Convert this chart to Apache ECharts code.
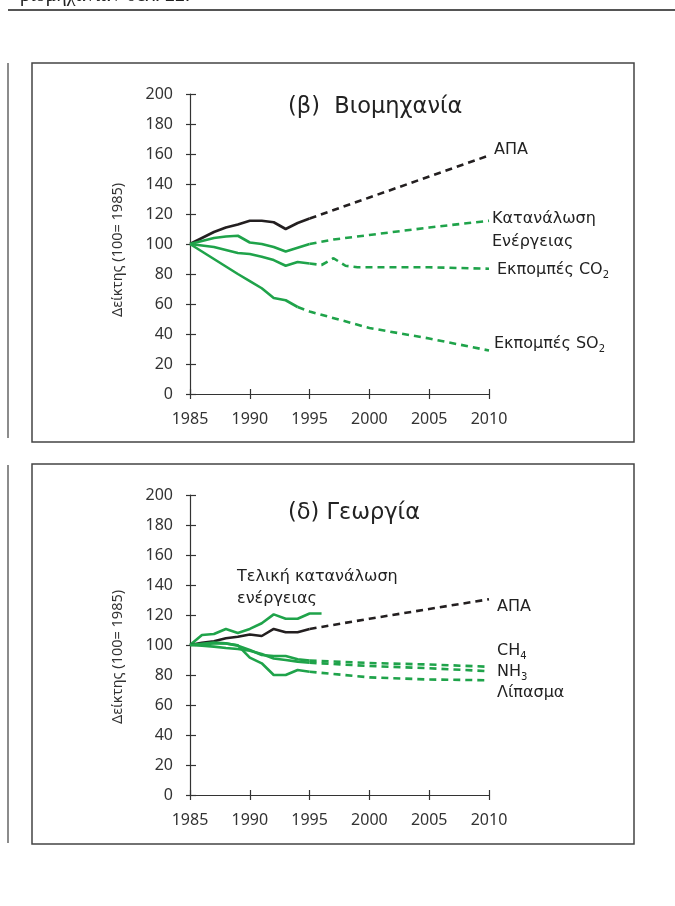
<!DOCTYPE html>
<html><head><meta charset="utf-8">
<script src="https://cdn.jsdelivr.net/npm/echarts@6/dist/echarts.min.js"></script>
<style>html,body{margin:0;padding:0;background:#fff}#c{width:675px;height:906px}</style>
</head><body><div id="c"></div>
<script>
// ---- data: (β) Βιομηχανία ----
const histYears = [1985,1986,1987,1988,1989,1990,1991,1992,1993,1994,1995];
const indGdpHist = [100,104,108,111,113,115.5,115.5,114.5,110,114,117];
const indGdpProjYears = [1995,2000,2005,2010];
const indGdpProj = [117,131,145,159];
const indEnergyHist = [100,102,104,105,105.5,101,100,98,95,97.5,100];
const indEnergyProjYears = [1995,1997,2000,2005,2010];
const indEnergyProj = [100,103,106,111,115.5];
const indCo2Hist = [100,99,98,96,94,93.3,91.5,89.3,85.5,88,87];
const indCo2ProjYears = [1995,1996,1997,1998,1999,2005,2010];
const indCo2Proj = [87,86,90.5,85.5,84.5,84.5,83.5];
const indSo2HistYears = [1985,1986,1987,1988,1989,1990,1991,1992,1993,1994];
const indSo2Hist = [100,95,90,85,80,75.3,70.5,64,62.5,58];
const indSo2ProjYears = [1994,1995,2000,2005,2010];
const indSo2Proj = [58,55,44,37,29];
// ---- data: (δ) Γεωργία ----
const agrEnergyYears = [1985,1986,1987,1988,1989,1990,1991,1992,1993,1994,1995,1996];
const agrEnergy = [100,106.7,107.3,110.7,108,110.7,114.5,120.4,117.5,117.5,121,121];
const agrGdpHist = [100,101.5,102.5,104.5,105.5,107,106,110.7,108.5,108.5,110.7];
const agrGdpProjYears = [1995,2000,2005,2010];
const agrGdpProj = [110.7,117.5,124,130.5];
const agrCh4Hist = [100,100.8,101.6,101.1,99.6,96.7,93.3,92.7,92.7,90.5,89.6];
const agrCh4ProjYears = [1995,2000,2005,2010];
const agrCh4Proj = [89.6,88,87,85.5];
const agrNh3Hist = [100,99.5,98.9,98,97.3,96.2,94,91,90,88.9,88.2];
const agrNh3ProjYears = [1995,2000,2005,2010];
const agrNh3Proj = [88.2,86,84.5,82.5];
const agrFertHist = [100,100.5,101,101,99.8,91.6,87.8,80,80,83.3,82.2];
const agrFertProjYears = [1995,2000,2005,2010];
const agrFertProj = [82.2,78.4,77,76.5];
// ---- axis ticks ----
const xMin = 1985, xMax = 2010, xStep = 5;
const yMin = 0, yMax = 200, yStep = 20;

const GREEN = '#1fa34a', BLACK = '#231f20';
const FONT = 'Noto Sans';
const LFONT = 'DejaVu Sans';
const zip = (xs, ys) => xs.map((x, i) => [x, ys[i]]);
function line(grid, xs, ys, color, dashed) {
  return {
    type: 'line', xAxisIndex: grid * 2, yAxisIndex: grid * 2,
    data: zip(xs, ys), symbol: 'none', silent: true, z: dashed ? 3 : 4,
    lineStyle: { color, width: 2.6, type: dashed ? [7, 5] : 'solid', cap: 'butt' }
  };
}
const grids = [
  { left: 190, top: 94, width: 299, height: 300 },
  { left: 190, top: 495, width: 299, height: 300 }
];
const xAxes = [], yAxes = [];
grids.forEach((g, i) => {
  xAxes.push({ type: 'value', gridIndex: i, min: xMin, max: xMax, interval: xStep,
    splitLine: { show: false },
    axisLine: { lineStyle: { color: '#333', width: 1.2 } },
    axisTick: { length: 5, lineStyle: { color: '#333', width: 1.2 } },
    axisLabel: { margin: 17, fontFamily: FONT, fontSize: 16, color: '#333', formatter: v => String(v) } });
  xAxes.push({ type: 'value', gridIndex: i, min: xMin, max: xMax, interval: xStep, position: 'bottom',
    splitLine: { show: false }, axisLine: { show: false },
    axisTick: { inside: true, length: 5, lineStyle: { color: '#333', width: 1.2 } },
    axisLabel: { show: false } });
  yAxes.push({ type: 'value', gridIndex: i, min: yMin, max: yMax, interval: yStep,
    splitLine: { show: false },
    axisLine: { show: true, lineStyle: { color: '#333', width: 1.2 } },
    axisTick: { show: true, length: 4, lineStyle: { color: '#333', width: 1.2 } },
    axisLabel: { margin: 17, fontFamily: FONT, fontSize: 16, color: '#333' } });
  yAxes.push({ type: 'value', gridIndex: i, min: yMin, max: yMax, interval: yStep, position: 'left',
    splitLine: { show: false }, axisLine: { show: false },
    axisTick: { show: true, inside: true, length: 6, lineStyle: { color: '#333', width: 1.2 } },
    axisLabel: { show: false } });
});

const series = [
  line(0, histYears, indGdpHist, BLACK, false),
  line(0, indGdpProjYears, indGdpProj, BLACK, true),
  line(0, histYears, indEnergyHist, GREEN, false),
  line(0, indEnergyProjYears, indEnergyProj, GREEN, true),
  line(0, histYears, indCo2Hist, GREEN, false),
  line(0, indCo2ProjYears, indCo2Proj, GREEN, true),
  line(0, indSo2HistYears, indSo2Hist, GREEN, false),
  line(0, indSo2ProjYears, indSo2Proj, GREEN, true),
  line(1, agrEnergyYears, agrEnergy, GREEN, false),
  line(1, histYears, agrGdpHist, BLACK, false),
  line(1, agrGdpProjYears, agrGdpProj, BLACK, true),
  line(1, histYears, agrCh4Hist, GREEN, false),
  line(1, agrCh4ProjYears, agrCh4Proj, GREEN, true),
  line(1, histYears, agrNh3Hist, GREEN, false),
  line(1, agrNh3ProjYears, agrNh3Proj, GREEN, true),
  line(1, histYears, agrFertHist, GREEN, false),
  line(1, agrFertProjYears, agrFertProj, GREEN, true)
];

const lblStyle = (txt, x, y, extra) => ({ type: 'text', x, y, silent: true,
  style: Object.assign({ text: txt, fontFamily: LFONT, fontSize: 16, fill: '#222', verticalAlign: 'middle', align: 'left' }, extra || {}) });
const subRich = {
  n: { fontFamily: LFONT, fontSize: 16, fill: '#222', lineHeight: 20 },
  s: { fontFamily: LFONT, fontSize: 10, fill: '#222', lineHeight: 10, verticalAlign: 'bottom' }
};
const yName = (y) => ({ type: 'text', x: 118, y, rotation: Math.PI / 2, silent: true,
  style: { text: 'Δείκτης (100= 1985)', fontFamily: FONT, fontSize: 14.5, fill: '#333', align: 'center', verticalAlign: 'middle' } });
const graphic = [
  { type: 'text', x: 20, y: -14, silent: true, style: { text: 'βιομηχανία / σελ. 22.', fontFamily: 'Liberation Serif', fontSize: 20, fill: '#222' } },
  { type: 'line', silent: true, shape: { x1: 8, y1: 10, x2: 675, y2: 10 }, style: { stroke: '#555', lineWidth: 2 } },
  { type: 'line', silent: true, shape: { x1: 8, y1: 63, x2: 8, y2: 438 }, style: { stroke: '#666', lineWidth: 1.5 } },
  { type: 'line', silent: true, shape: { x1: 8, y1: 465, x2: 8, y2: 843 }, style: { stroke: '#666', lineWidth: 1.5 } },
  { type: 'rect', silent: true, shape: { x: 32, y: 63, width: 602, height: 379 }, style: { fill: 'none', stroke: '#444', lineWidth: 1.5 } },
  { type: 'rect', silent: true, shape: { x: 32, y: 464, width: 602, height: 380 }, style: { fill: 'none', stroke: '#444', lineWidth: 1.5 } },
  yName(250), yName(657),
  lblStyle('(β)  Βιομηχανία', 288, 107, { fontSize: 22.5 }),
  lblStyle('ΑΠΑ', 494, 150),
  lblStyle('Κατανάλωση', 492, 219),
  lblStyle('Ενέργειας', 492, 242),
  { type: 'text', x: 497, y: 270, silent: true, style: { text: '{n|Εκπομπές CO}{s|2}', rich: subRich, verticalAlign: 'middle' } },
  { type: 'text', x: 494, y: 344, silent: true, style: { text: '{n|Εκπομπές SO}{s|2}', rich: subRich, verticalAlign: 'middle' } },
  lblStyle('(δ) Γεωργία', 288, 513, { fontSize: 22.5 }),
  lblStyle('Τελική κατανάλωση', 237, 577),
  lblStyle('ενέργειας', 237, 599),
  lblStyle('ΑΠΑ', 497, 607),
  { type: 'text', x: 497, y: 651, silent: true, style: { text: '{n|CH}{s|4}', rich: subRich, verticalAlign: 'middle' } },
  { type: 'text', x: 497, y: 672, silent: true, style: { text: '{n|NH}{s|3}', rich: subRich, verticalAlign: 'middle' } },
  lblStyle('Λίπασμα', 497, 693)
];

const chart = echarts.init(document.getElementById('c'), null, { renderer: 'canvas' });
chart.setOption({
  backgroundColor: '#fff', animation: false,
  grid: grids, xAxis: xAxes, yAxis: yAxes, series, graphic
});
</script></body></html>
